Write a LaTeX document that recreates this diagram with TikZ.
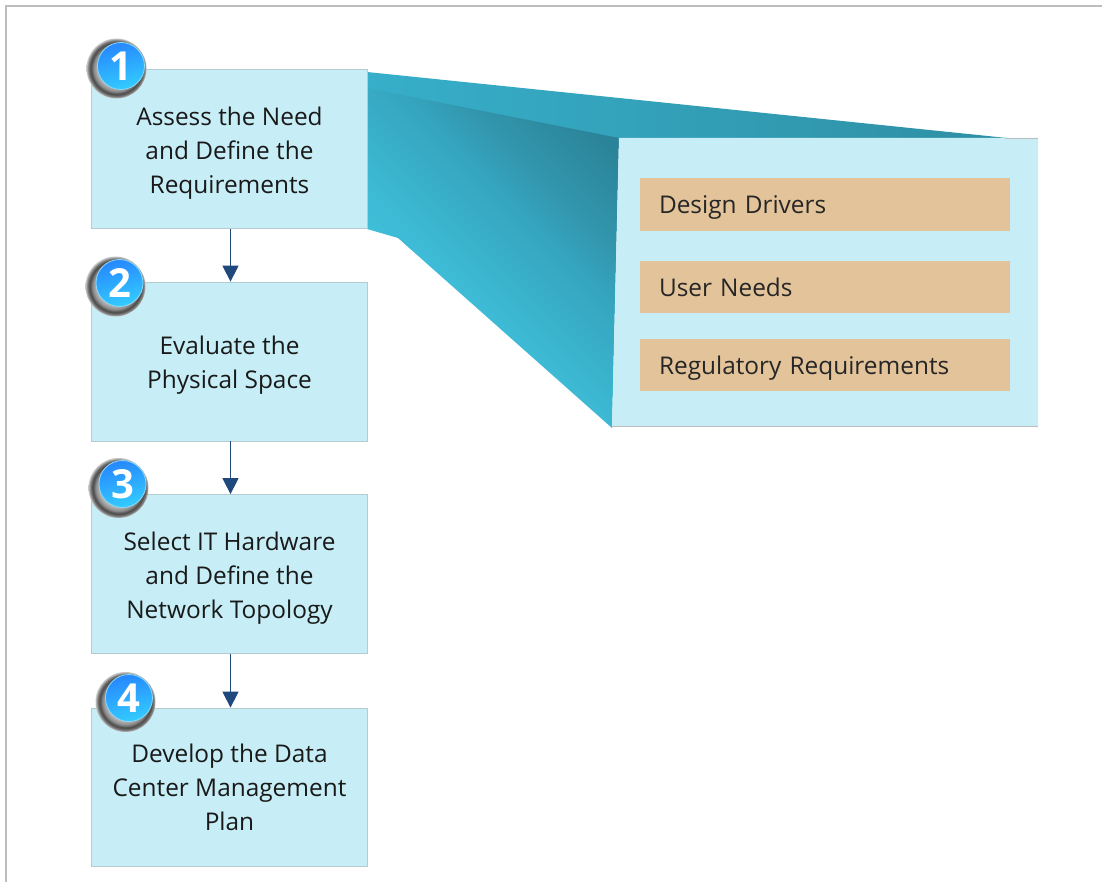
\documentclass[tikz,border=0pt]{standalone}
\usepackage{fontspec}
\usetikzlibrary{arrows.meta}
\setmainfont{Open Sans}
\definecolor{boxblue}{HTML}{C7EEF6}
\definecolor{boxline}{HTML}{B4CBD0}
\definecolor{tan}{HTML}{E3C39A}
\definecolor{arrowblue}{HTML}{1F497D}
\definecolor{frameline}{HTML}{BDBDBD}
\definecolor{wedgetopa}{HTML}{37AFCA}
\definecolor{wedgetopb}{HTML}{2E8FA4}
\definecolor{wedgea}{HTML}{40C0DA}
\definecolor{wedgeb}{HTML}{3DB9D4}
\definecolor{wedgec}{HTML}{39B1CB}
\definecolor{wedged}{HTML}{36A6C0}
\definecolor{wedgee}{HTML}{3295AC}
\definecolor{wedgef}{HTML}{2A8398}
\pgfdeclareradialshading{ringshade}{\pgfpoint{0pt}{0pt}}{
    color(0bp)=(black!25); color(16bp)=(black!30); color(19bp)=(black!45);
    color(21.5bp)=(black!72); color(23.5bp)=(black!50); color(25bp)=(black!20); color(50bp)=(black!20)}
\pgfdeclareverticalshading{wedgeshade}{100bp}{
    color(0bp)=(wedgea); color(37bp)=(wedgea); color(44bp)=(wedgeb); color(50bp)=(wedgec);
    color(58bp)=(wedged); color(66bp)=(wedgee); color(78bp)=(wedgef); color(100bp)=(wedgef)}

\begin{document}
\begin{tikzpicture}[
    x=1pt, y=-1pt,
    stepbox/.style={rectangle, draw=boxline, fill=boxblue, line width=0.8pt,
        minimum width=276pt, minimum height=159pt, inner sep=0pt},
    steptext/.style={inner sep=0pt, align=center,
        font=\fontsize{24.4}{34}\selectfont, text=black!90},
    itembox/.style={rectangle, fill=tan, minimum width=370pt, inner sep=0pt,
        text width=332pt, text height=24pt, text depth=5pt, align=left,
        font=\fontsize{24.4}{30}\selectfont, text=black!85},
    ring/.style={circle, minimum size=60pt, inner sep=0pt, shading=ringshade},
    badge/.style={circle, minimum size=47pt, inner sep=0pt, draw=white!55!cyan, line width=0.8pt,
        top color=blue!55!cyan!85, bottom color=cyan!75!blue!80, shading angle=15,
        text=white, font=\bfseries\fontsize{40}{40}\selectfont},
    flow/.style={arrowblue, line width=1.4pt, -{Triangle[length=16pt, width=16pt]}}
]
    \useasboundingbox (0,0) rectangle (1102,882);
    \fill[white] (0,0) rectangle (1102,882);
    \draw[frameline, line width=1.5pt] (6,882) -- (6,6) -- (1102,6);

    % wedge from first box to detail panel
    \shade[left color=wedgetopa, right color=wedgetopb]
        (367,72) -- (1007,138) -- (619,140) -- (367,90) -- cycle;
    \shade[shading=wedgeshade, shading angle=-45]
        (367,88) -- (619,138) -- (612,428) -- (398,238) -- (367,229) -- cycle;
    \fill[boxblue] (619,138) -- (1038,138) -- (1038,426.5) -- (612,426.5) -- cycle;
    \draw[frameline, line width=0.8pt] (1005,138) -- (1038,138);
    \draw[frameline, line width=0.8pt] (612,426.5) -- (1038,426.5);

    \node[itembox, minimum height=53pt] (drivers) at (825,204.5) {Design Drivers};
    \node[itembox, minimum height=52pt] (needs) at (825,287) {User Needs};
    \node[itembox, minimum height=52pt] (regs) at (825,365) {Regulatory Requirements};

    \node[stepbox] (assess) at (229,149) {};
    \node[stepbox] (space) at (229,361.5) {};
    \node[stepbox] (hardware) at (229,574) {};
    \node[stepbox, minimum height=158pt] (plan) at (229,787) {};
    \node[steptext] (assesstext) at (229.5,153) {Assess the Need\\and Define the\\Requirements};
    \node[steptext] (spacetext) at (229.5,365.5) {Evaluate the\\Physical Space};
    \node[steptext] (hardwaretext) at (229.5,578) {Select IT Hardware\\and Define the\\Network Topology};
    \node[steptext] (plantext) at (229.5,787) {Develop the Data\\Center Management\\Plan};

    \draw[flow] (assess.south -| 230.5,0) -- (space.north -| 230.5,0);
    \draw[flow] (space.south -| 230.5,0) -- (hardware.north -| 230.5,0);
    \draw[flow] (hardware.south -| 230.5,0) -- (plan.north -| 230.5,0);

    \node[ring] (ringa) at (116.5,68.5) {};
    \node[badge] (one) at (121,66) {1};
    \node[ring] (ringb) at (115.5,286.5) {};
    \node[badge] (two) at (119.5,283) {2};
    \node[ring] (ringc) at (118.5,488) {};
    \node[badge] (three) at (122.5,484) {3};
    \node[ring] (ringd) at (125.5,702) {};
    \node[badge] (four) at (129,698) {4};
\end{tikzpicture}
\end{document}
